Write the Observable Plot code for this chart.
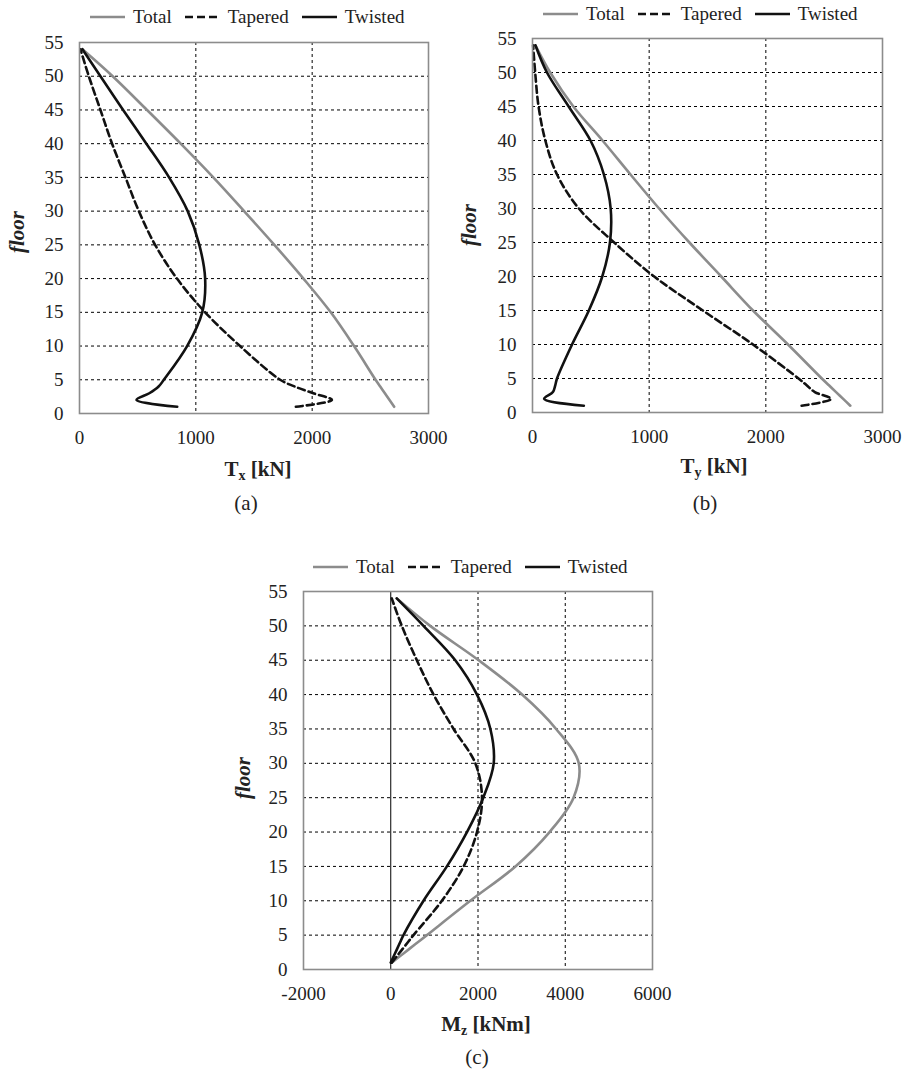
<!DOCTYPE html>
<html>
<head>
<meta charset="utf-8">
<script src="https://cdn.jsdelivr.net/npm/d3@7"></script>
<script src="https://cdn.jsdelivr.net/npm/@observablehq/plot@0.6"></script>
<style>
  html, body { margin: 0; padding: 0; background: #fff; }
  #root { position: relative; width: 905px; height: 1074px; overflow: hidden; font-family: "Liberation Serif", "Tinos", "Times New Roman", "DejaVu Serif", serif; color: #222; }
  .abs { position: absolute; }
  .legend { display: flex; align-items: center; font-size: 19px; line-height: 22px; white-space: nowrap; }
  .legend svg { display: block; }
  .lab { transform: translate(-50%, -50%); font-weight: bold; font-size: 21px; white-space: nowrap; }
  .lab sub { font-size: 14px; vertical-align: -4px; }
  .ylab { transform: translate(-50%, -50%) rotate(-90deg); font-weight: bold; font-style: italic; font-size: 21px; white-space: nowrap; }
  .cap { transform: translate(-50%, -50%); font-size: 21px; white-space: nowrap; }
</style>
</head>
<body>
<div id="root"></div>
<script>
// ---------- data ----------
const floors = [1, 2, 3, 4, 5, 10, 15, 20, 25, 30, 35, 40, 45, 50, 54];
const seriesNames = ["Total", "Tapered", "Twisted"];

// (a) Tx [kN]
const txTotal   = [2705, 2665, 2625, 2585, 2545, 2360, 2160, 1925, 1675, 1415, 1150, 870, 580, 285, 25];
const txTapered = [1860, 2170, 2010, 1850, 1725, 1380, 1080, 838, 650, 510, 395, 280, 180, 80, 8];
const txTwisted = [840, 490, 600, 680, 725, 925, 1055, 1080, 1030, 930, 770, 575, 375, 180, 25];

// (b) Ty [kN]
const tyTotal   = [2724, 2663, 2602, 2541, 2480, 2190, 1890, 1618, 1345, 1085, 840, 600, 350, 152, 25];
const tyTapered = [2307, 2560, 2420, 2350, 2280, 1890, 1460, 1043, 700, 397, 210, 110, 52, 23, 5];
const tyTwisted = [440, 100, 175, 195, 210, 339, 483, 598, 664, 670, 612, 497, 310, 124, 25];

// (c) Mz [kNm]
const mzTotal   = [23, 224, 426, 627, 828, 1824, 2858, 3640, 4190, 4310, 3790, 3011, 2015, 904, 138];
const mzTapered = [23, 148, 272, 397, 521, 1172, 1670, 1977, 2092, 1939, 1441, 981, 598, 253, 23];
const mzTwisted = [0, 73, 146, 218, 291, 751, 1287, 1747, 2120, 2360, 2284, 1977, 1479, 751, 138];

const yTicks = [0, 5, 10, 15, 20, 25, 30, 35, 40, 45, 50, 55];
const yGrid = [5, 10, 15, 20, 25, 30, 35, 40, 45, 50];
const xTicksT = [0, 1000, 2000, 3000];
const xGridT = [1000, 2000];
const xTicksM = [-2000, 0, 2000, 4000, 6000];
const xGridM = [2000, 4000];
const xZeroM = [0];

// ---------- styles ----------
const FONT = "'Liberation Serif', 'Tinos', 'Times New Roman', 'DejaVu Serif', serif";
const styles = {
  Total:   { stroke: "#8c8c8c", dash: null },
  Tapered: { stroke: "#111", dash: "7,4" },
  Twisted: { stroke: "#111", dash: null }
};

const root = document.getElementById("root");

function rows(values) {
  return seriesNames.flatMap((s, k) => floors.map((f, i) => ({ series: s, floor: f, value: values[k][i] })));
}

function makePanel(opt) {
  const data = rows(opt.values);
  const marks = [
    Plot.ruleY(yGrid, { stroke: "#000", strokeWidth: 1, strokeDasharray: "3,3" }),
    Plot.ruleX(opt.xGrid, { stroke: "#000", strokeWidth: 1, strokeDasharray: "3,3" })
  ];
  if (opt.xZero) marks.push(Plot.ruleX(opt.xZero, { stroke: "#000", strokeWidth: 1 }));
  for (const s of seriesNames) {
    marks.push(Plot.line(data.filter(d => d.series === s), {
      x: "value", y: "floor", curve: "catmull-rom",
      stroke: styles[s].stroke, strokeWidth: 2.6,
      strokeDasharray: styles[s].dash || undefined
    }));
  }
  marks.push(Plot.frame({ stroke: "#8c8c8c", strokeWidth: 1.6 }));
  marks.push(Plot.axisX({ ticks: opt.xTicks, tickSize: 0, tickPadding: 17, tickFormat: d => String(d), label: null, fontSize: 19 }));
  marks.push(Plot.axisY({ ticks: yTicks, tickSize: 0, tickPadding: 16, tickFormat: d => String(d), label: null, fontSize: 19 }));

  const svg = Plot.plot({
    width: opt.width, height: opt.height,
    marginLeft: opt.ml, marginRight: opt.mr, marginTop: opt.mt, marginBottom: opt.mb,
    x: { domain: opt.xDomain },
    y: { domain: [0, 55] },
    style: { fontFamily: FONT, fontSize: "19px", color: "#222", background: "transparent", overflow: "visible" },
    marks
  });
  svg.classList.add("abs");
  svg.style.left = opt.left + "px";
  svg.style.top = opt.top + "px";
  root.appendChild(svg);

  // legend
  const lg = document.createElement("div");
  lg.className = "abs legend";
  lg.style.left = opt.legendX + "px";
  lg.style.top = (opt.legendY - 11) + "px";
  seriesNames.forEach((s, k) => {
    const sw = document.createElementNS("http://www.w3.org/2000/svg", "svg");
    sw.setAttribute("width", 35); sw.setAttribute("height", 8);
    sw.style.marginLeft = k === 0 ? "0px" : "13px";
    sw.style.marginRight = "8px";
    const ln = document.createElementNS("http://www.w3.org/2000/svg", "line");
    ln.setAttribute("x1", 0); ln.setAttribute("x2", 35); ln.setAttribute("y1", 4); ln.setAttribute("y2", 4);
    ln.setAttribute("stroke", styles[s].stroke); ln.setAttribute("stroke-width", 2.6);
    if (styles[s].dash) ln.setAttribute("stroke-dasharray", "8,4");
    sw.appendChild(ln);
    lg.appendChild(sw);
    const t = document.createElement("span"); t.textContent = s; lg.appendChild(t);
  });
  root.appendChild(lg);

  // x label
  const xl = document.createElement("div");
  xl.className = "abs lab";
  xl.style.left = opt.xLabelX + "px"; xl.style.top = opt.xLabelY + "px";
  xl.innerHTML = opt.xLabel;
  root.appendChild(xl);

  // y label
  const yl = document.createElement("div");
  yl.className = "abs ylab";
  yl.style.left = opt.yLabelX + "px"; yl.style.top = opt.yLabelY + "px";
  yl.textContent = "floor";
  root.appendChild(yl);

  // caption
  const cp = document.createElement("div");
  cp.className = "abs cap";
  cp.style.left = opt.capX + "px"; cp.style.top = opt.capY + "px";
  cp.textContent = opt.cap;
  root.appendChild(cp);
}

makePanel({
  values: [txTotal, txTapered, txTwisted], xDomain: [0, 3000], xTicks: xTicksT, xGrid: xGridT,
  left: 0, top: 30, width: 450, height: 423, ml: 79, mr: 22, mt: 12, mb: 40,
  legendX: 90, legendY: 17,
  xLabel: "T<sub>x</sub> [kN]", xLabelX: 258, xLabelY: 470,
  yLabelX: 17, yLabelY: 232, cap: "(a)", capX: 246, capY: 503
});

makePanel({
  values: [tyTotal, tyTapered, tyTwisted], xDomain: [0, 3000], xTicks: xTicksT, xGrid: xGridT,
  left: 452, top: 26, width: 453, height: 426, ml: 80, mr: 23, mt: 12, mb: 40,
  legendX: 543, legendY: 14,
  xLabel: "T<sub>y</sub> [kN]", xLabelX: 714, xLabelY: 467,
  yLabelX: 469, yLabelY: 225, cap: "(b)", capX: 705, capY: 503
});

makePanel({
  values: [mzTotal, mzTapered, mzTwisted], xDomain: [-2000, 6000], xTicks: xTicksM, xGrid: xGridM, xZero: xZeroM,
  left: 223, top: 579, width: 459, height: 430, ml: 80, mr: 30, mt: 12, mb: 40,
  legendX: 313, legendY: 567,
  xLabel: "M<sub>z</sub> [kNm]", xLabelX: 486, xLabelY: 1025,
  yLabelX: 243, yLabelY: 778, cap: "(c)", capX: 477, capY: 1057
});
</script>
</body>
</html>
